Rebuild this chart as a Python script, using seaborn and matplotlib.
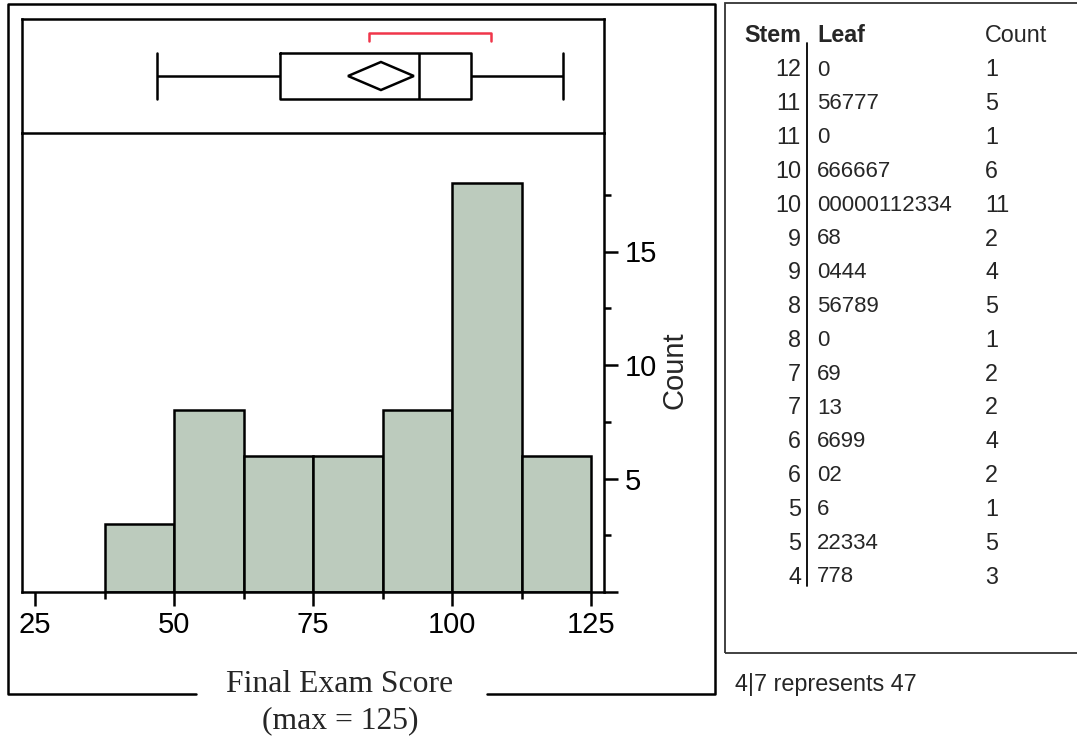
import numpy as np
import matplotlib
matplotlib.use("Agg")
import matplotlib.pyplot as plt
from matplotlib.lines import Line2D
from matplotlib.patches import Rectangle, Polygon
from matplotlib.ticker import MultipleLocator, FixedLocator
import seaborn as sns

# Final exam scores, read from the stem-and-leaf display
scores = [47, 47, 48, 52, 52, 53, 53, 54, 56, 60, 62, 66, 66, 69, 69, 71, 73,
          76, 79, 80, 85, 86, 87, 88, 89, 90, 94, 94, 94, 96, 98,
          100, 100, 100, 100, 100, 101, 101, 102, 103, 103, 104,
          106, 106, 106, 106, 106, 107, 110, 115, 116, 117, 117, 117, 120]
x_ticks = [25, 50, 75, 100, 125]
y_ticks = [0, 5, 10, 15]
y_tick_labels = ["", "5", "10", "15"]
y_minor = [2.5, 7.5, 12.5, 17.5]

W, H = 1077, 742
BAR_COLOR = "#BCCBBD"
RED = "#F0364A"
SANS = "Liberation Sans"
SERIF = "Liberation Serif"
LW = 1.8

sns.set_theme(style="white")
plt.rcParams["font.family"] = [SANS, "DejaVu Sans"]

x_arr = np.sort(np.array(scores, dtype=float))
n = len(x_arr)

fig = plt.figure(figsize=(W / 100, H / 100), dpi=100)


def fx(px):
    return px / W


def fy(py):
    return 1 - py / H


def px_to_data(px):
    # x axis: 25 at px 35, 5.56 px per unit
    return 25 + (px - 35) / 5.56


xlim = (px_to_data(22), px_to_data(604))

ax_hist = fig.add_axes([fx(22), fy(592), fx(604) - fx(22), fy(133) - fy(592)])
ax_box = fig.add_axes([fx(22), fy(133), fx(604) - fx(22), fy(19) - fy(133)])
ax_box.set_zorder(3)
ax_box.patch.set_alpha(0)

# --- histogram ---
sns.histplot(x=x_arr, binwidth=12.5, binrange=(37.5, 125), color=BAR_COLOR,
             edgecolor="black", linewidth=LW, alpha=1, ax=ax_hist)
ax_hist.set_xlim(*xlim)
ax_hist.set_ylim(0, (592 - 133) / 22.7)
ax_hist.set_xlabel("")
ax_hist.set_ylabel("")
ax_hist.spines["top"].set_visible(False)
for side in ["left", "right", "bottom"]:
    ax_hist.spines[side].set_color("black")
    ax_hist.spines[side].set_linewidth(LW)
ax_hist.yaxis.tick_right()
ax_hist.set_xticks(x_ticks)
ax_hist.set_xticklabels([str(t) for t in x_ticks])
ax_hist.xaxis.set_minor_locator(MultipleLocator(12.5))
ax_hist.set_yticks(y_ticks)
ax_hist.set_yticklabels(y_tick_labels)
ax_hist.yaxis.set_minor_locator(FixedLocator(y_minor))
ax_hist.tick_params(axis="both", which="major", direction="out", length=10,
                    width=LW, color="black", labelsize=21, labelcolor="black")
ax_hist.tick_params(axis="both", which="minor", direction="out", length=5,
                    width=LW, color="black")
ax_hist.tick_params(axis="x", which="both", bottom=True, top=False, pad=4)
ax_hist.tick_params(axis="y", which="both", right=True, left=False, pad=5)
fig.text(fx(675), fy(370), "Count", rotation=90, ha="center", va="center",
         fontsize=21, family=[SANS])

# --- outlier box plot ---
mean = x_arr.mean()
half = 2.0049 * x_arr.std(ddof=1) / np.sqrt(n)
k = int(np.ceil(n / 2))
spans = x_arr[k - 1:] - x_arr[:n - k + 1]
i0 = int(np.argmin(spans))
short_lo, short_hi = x_arr[i0], x_arr[i0 + k - 1]

sns.boxplot(x=x_arr, orient="h", whis=(0, 100), width=0.4, fill=False,
            color="black", linewidth=LW, capwidths=0.4, ax=ax_box)
ax_box.set_xlim(*xlim)
ax_box.set_ylim(0.5, -0.5)
ax_box.set_xticks([])
ax_box.set_yticks([])
ax_box.set_xlabel("")
for side in ax_box.spines.values():
    side.set_color("black")
    side.set_linewidth(LW)
    side.set_visible(True)
ax_box.add_patch(Polygon([[mean - half, 0], [mean, -0.123], [mean + half, 0], [mean, 0.123]],
                         closed=True, fill=False, edgecolor="black", linewidth=LW, zorder=3))
tr = ax_box.get_xaxis_transform()
ax_box.plot([short_lo, short_lo, short_hi, short_hi], [0.807, 0.877, 0.877, 0.807],
            color=RED, linewidth=LW, transform=tr, clip_on=False)

# --- outer frame with a gap for the axis title ---
fig.add_artist(Line2D([fx(196), fx(8), fx(8), fx(715), fx(715), fx(487)],
                      [fy(694), fy(694), fy(4), fy(4), fy(694), fy(694)],
                      color="black", linewidth=LW))
fig.text(fx(340), fy(684), "Final Exam Score", ha="center", va="center",
         fontsize=22.8, family=[SERIF])
fig.text(fx(340), fy(721), "(max = 125)", ha="center", va="center",
         fontsize=22.8, family=[SERIF])

# --- stem and leaf ---
rows = []
for stem in range(int(x_arr.max() // 10), int(x_arr.min() // 10) - 1, -1):
    for lo_half in (False, True):
        lv = [int(v) % 10 for v in x_arr if int(v) // 10 == stem
              and ((int(v) % 10 < 5) == lo_half)]
        if lv:
            rows.append((stem, "".join(str(d) for d in sorted(lv)), len(lv)))

fig.add_artist(Rectangle((fx(725), fy(653)), fx(1100) - fx(725), fy(3) - fy(653),
                         fill=False, edgecolor="#333333", linewidth=1.3))
fs_tab = 16.8
fig.text(fx(801), fy(36), "Stem", ha="right", va="center", fontsize=fs_tab,
         fontweight="bold")
fig.text(fx(817), fy(36), "Leaf", ha="left", va="center", fontsize=fs_tab,
         fontweight="bold")
fig.text(fx(985), fy(36), "Count", ha="left", va="center", fontsize=fs_tab)
row_y0, row_dy = 70, 33.8
for i, (stem, leaf, cnt) in enumerate(rows):
    yy = fy(row_y0 + i * row_dy)
    fig.text(fx(801), yy, str(stem), ha="right", va="center", fontsize=fs_tab)
    fig.text(fx(817), yy, leaf, ha="left", va="center", fontsize=fs_tab - 0.8)
    fig.text(fx(985), yy, str(cnt), ha="left", va="center", fontsize=fs_tab)
fig.add_artist(Line2D([fx(807), fx(807)],
                      [fy(43), fy(row_y0 + (len(rows) - 1) * row_dy + 9)],
                      color="black", linewidth=1.3))
fig.text(fx(735), fy(685), "4|7 represents 47", ha="left", va="center",
         fontsize=fs_tab)

fig.savefig("out.png", dpi=100)
